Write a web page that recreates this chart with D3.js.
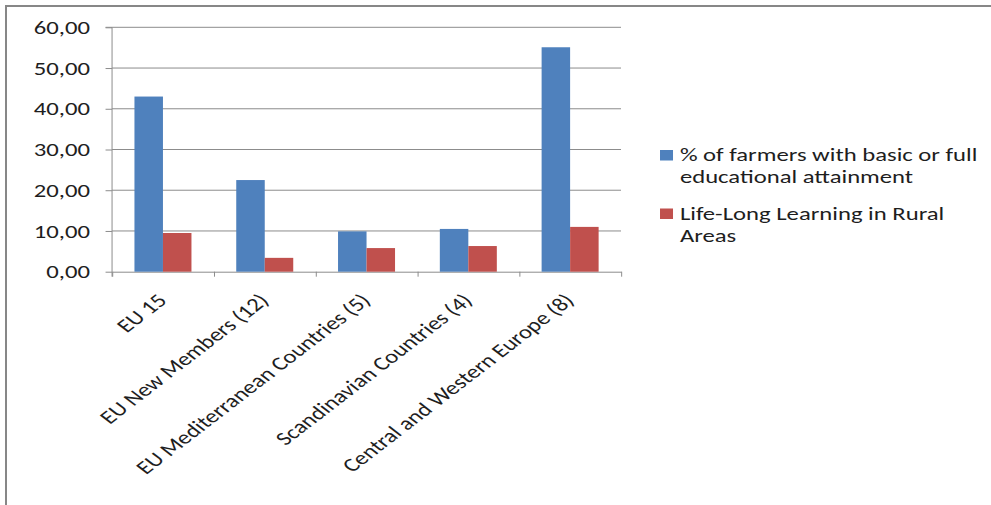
<!DOCTYPE html>
<html>
<head>
<meta charset="utf-8">
<script src="https://cdn.jsdelivr.net/npm/d3@7"></script>
<style>
  html, body { margin: 0; padding: 0; background: #fff; }
  svg { display: block; }
  text { font-family: Carlito, Lato, "Open Sans", sans-serif; fill: #1e1e1e; }
</style>
</head>
<body>
<svg id="chart" width="991" height="505"></svg>
<script>
// ---- data ----
const categories = [
  "EU 15",
  "EU New Members (12)",
  "EU Mediterranean Countries (5)",
  "Scandinavian Countries (4)",
  "Central and Western Europe (8)"
];
const seriesNames = [
  "% of farmers with basic or full educational attainment",
  "Life-Long Learning in Rural Areas"
];
const basicEducation = [43.0, 22.5, 9.9, 10.5, 55.1];
const lifeLongLearning = [9.5, 3.4, 5.8, 6.3, 11.0];
const yTicks = [0, 10, 20, 30, 40, 50, 60];
const legendLines = [
  ["% of farmers with basic or full", "educational attainment"],
  ["Life-Long Learning in Rural", "Areas"]
];

// ---- layout (drawn in a frame that is widened horizontally) ----
const W = 991, H = 505;
const SX = 1.3;                      // horizontal widening of the whole figure
const colors = ["#4F81BD", "#C0504D"];
const gridColor = "#8c8c8c";
const fontSize = 19;

const plot = { left: 86.2, right: 477.7, top: 27.3, bottom: 271.7 };

const svg = d3.select("#chart");

// outer frame: top and left edges only
svg.append("path")
  .attr("d", `M6,${H} V6 H${W}`)
  .attr("fill", "none")
  .attr("stroke", "#878787")
  .attr("stroke-width", 2);

const g = svg.append("g").attr("transform", `scale(${SX},1)`);

// scales
const y = d3.scaleLinear().domain([0, 60]).range([plot.bottom, plot.top]);
const x0 = d3.scaleBand()
  .domain(categories)
  .range([plot.left, plot.right])
  .paddingInner(0.44)
  .paddingOuter(0.22);
const x1 = d3.scaleBand()
  .domain([0, 1])
  .range([0, x0.bandwidth()]);
const xEdge = d3.scaleLinear().domain([0, categories.length]).range([plot.left, plot.right]);

const locale = d3.formatLocale({ decimal: ",", thousands: ".", grouping: [3], currency: ["", ""] });
const fmt = locale.format(".2f");

// gridlines
g.append("g")
  .selectAll("line")
  .data(yTicks.filter(d => d > 0))
  .join("line")
  .attr("x1", plot.left)
  .attr("x2", plot.right)
  .attr("y1", d => y(d))
  .attr("y2", d => y(d))
  .attr("stroke", gridColor)
  .attr("stroke-width", 1)
  .attr("vector-effect", "non-scaling-stroke");

// y axis
const yAxis = g.append("g")
  .attr("transform", `translate(${plot.left},0)`)
  .call(d3.axisLeft(y).tickValues(yTicks).tickFormat(fmt).tickSize(5).tickPadding(12));
yAxis.selectAll("path, line")
  .attr("stroke", gridColor)
  .attr("vector-effect", "non-scaling-stroke");
yAxis.select(".domain").attr("d", `M-5,${plot.top}H0V${plot.bottom + 5}`);
yAxis.selectAll("text")
  .attr("font-size", fontSize)
  .attr("font-family", null)
  .attr("dy", "0.32em")
  .attr("fill", "#1e1e1e");

// x axis (ticks sit between categories)
const xAxis = g.append("g")
  .attr("transform", `translate(0,${plot.bottom})`)
  .call(d3.axisBottom(xEdge).tickValues(d3.range(categories.length + 1)).tickFormat("").tickSize(5).tickSizeOuter(0));
xAxis.selectAll("path, line")
  .attr("stroke", gridColor)
  .attr("vector-effect", "non-scaling-stroke");

// bars
const rows = categories.map((c, i) => ({ c, values: [basicEducation[i], lifeLongLearning[i]] }));
g.append("g")
  .selectAll("g")
  .data(rows)
  .join("g")
  .attr("transform", d => `translate(${x0(d.c)},0)`)
  .selectAll("rect")
  .data(d => d.values.map((v, k) => ({ v, k })))
  .join("rect")
  .attr("x", d => x1(d.k))
  .attr("width", x1.bandwidth())
  .attr("y", d => y(d.v))
  .attr("height", d => y(0) - y(d.v))
  .attr("fill", d => colors[d.k]);

// category labels, rotated
g.append("g")
  .selectAll("text")
  .data(categories)
  .join("text")
  .attr("transform", d => `translate(${x0(d) + x0.bandwidth() / 2 + 4},${plot.bottom + 30}) rotate(-45)`)
  .attr("text-anchor", "end")
  .attr("font-size", fontSize)
  .text(d => d);

// legend
const legend = g.append("g").attr("transform", "translate(507.7,0)");
const legendTop = [150, 208.5];
const lineBase = [[161, 183], [220.5, 242]];
seriesNames.forEach((name, k) => {
  const item = legend.append("g").attr("class", "legend-item");
  item.append("rect")
    .attr("x", 0)
    .attr("y", legendTop[k])
    .attr("width", 10)
    .attr("height", 10.5)
    .attr("fill", colors[k]);
  const t = item.append("text")
    .attr("font-size", fontSize);
  legendLines[k].forEach((line, j) => {
    t.append("tspan")
      .attr("x", 15.3)
      .attr("y", lineBase[k][j])
      .text(line);
  });
});
</script>
</body>
</html>
